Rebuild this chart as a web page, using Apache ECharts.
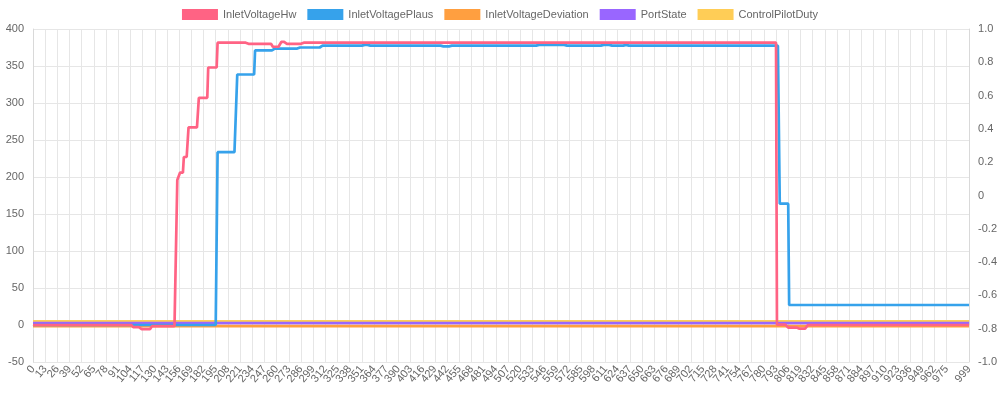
<!DOCTYPE html>
<html>
<head>
<meta charset="utf-8">
<script src="https://cdn.jsdelivr.net/npm/echarts@6/dist/echarts.min.js"></script>
<style>
html,body{margin:0;padding:0;background:#fff;}
#chart{width:1000px;height:399px;}
</style>
</head>
<body>
<div id="chart"></div>
<script>
// Category count (sample indices 0..999)
const sampleCount = 1000;
const seriesNames = ['InletVoltageHw','InletVoltagePlaus','InletVoltageDeviation','PortState','ControlPilotDuty'];
// Step data: [startIndex, value] — value holds until next step
const hwSteps = [[0,0],[107,-3],[115,-5.5],[127,-1.5],[154,196],[157,206],[161,227],[166,267],[177,307],[187,348],[197,381.5],[228,380],[256,376],[265,382.5],[270,380],[288,381.5],[794,0.5],[806,-3.5],[817,-5],[827,0]];
const plausSteps = [[0,0],[197,233.5],[218,338.5],[237,371],[256,373.5],[285,375],[308,377.5],[352,378.5],[360,377.5],[437,376.5],[445,377.5],[538,378.5],[570,377.5],[607,378.5],[617,377.5],[633,378.5],[636,377.5],[797,164],[807,27]];
const deviationSteps = [[0,-1.5]];
const portStateSteps = [[0,2.5]];
const pilotDutySteps = [[0,5]];
const leftTicks = {min:-50, max:400, interval:50};
const rightTicks = {min:-1, max:1, interval:0.2};

function expand(steps){
  const out = new Array(sampleCount);
  let k = 0;
  for(let i=0;i<sampleCount;i++){
    while(k+1<steps.length && steps[k+1][0]<=i) k++;
    out[i] = steps[k][1];
  }
  return out;
}
const categories = Array.from({length:sampleCount},(_,i)=>String(i));
const colors = ['rgb(255,99,132)','rgb(54,162,235)','rgb(255,159,64)','rgb(153,102,255)','rgb(255,205,86)'];
const allSteps = [hwSteps, plausSteps, deviationSteps, portStateSteps, pilotDutySteps];

const showTick = (idx) => (idx % 13 === 0 && idx <= 975) || idx === 999;
const evenLabel = (idx) => (idx % 26 === 0 && idx <= 975) || idx === 999;
const oddLabel = (idx) => idx % 26 === 13 && idx <= 975;
const labelStyle = {rotate:50, color:'#666', fontSize:11, margin:5, hideOverlap:false, showMinLabel:true, showMaxLabel:true};

const chart = echarts.init(document.getElementById('chart'), null, {renderer:'canvas'});
chart.setOption({
  animation:false,
  color: colors,
  textStyle:{fontFamily:'"Liberation Sans", Arial, sans-serif'},
  legend:{
    top:4, left:'center', icon:'rect', itemWidth:36, itemHeight:11, itemGap:11,
    textStyle:{color:'#666', fontSize:11},
    data: seriesNames
  },
  grid:{left:33, right:28, top:29, bottom:37, containLabel:false},
  xAxis:[{
    type:'category', data:categories, boundaryGap:false,
    axisLine:{show:true, lineStyle:{color:'#d9d9d9', width:1}},
    axisTick:{show:true, interval:(i)=>showTick(i), length:5, lineStyle:{color:'#e6e6e6'}},
    splitLine:{show:true, interval:(i)=>showTick(i), lineStyle:{color:'#e6e6e6', width:1}},
    axisLabel:Object.assign({interval:(i)=>evenLabel(i)}, labelStyle)
  },{
    type:'category', data:categories, boundaryGap:false, position:'bottom',
    axisLine:{show:false}, axisTick:{show:false}, splitLine:{show:false},
    axisLabel:Object.assign({interval:(i)=>oddLabel(i)}, labelStyle)
  }],
  yAxis:[
    {type:'value', position:'left', min:leftTicks.min, max:leftTicks.max, interval:leftTicks.interval,
     axisLine:{show:true, lineStyle:{color:'#d9d9d9'}},
     axisTick:{show:false},
     splitLine:{show:true, lineStyle:{color:'#e6e6e6'}},
     axisLabel:{color:'#666', fontSize:11, margin:9}},
    {type:'value', position:'right', min:rightTicks.min, max:rightTicks.max, interval:rightTicks.interval,
     axisLine:{show:true, lineStyle:{color:'#d9d9d9'}},
     axisTick:{show:false},
     splitLine:{show:false},
     axisLabel:{color:'#666', fontSize:11, margin:9,
       formatter:(v)=> Math.abs(v)<1e-9 ? '0' : v.toFixed(1)}}
  ],
  series: seriesNames.map((name, s)=>({
    name, type:'line', xAxisIndex:0, yAxisIndex:0, data: expand(allSteps[s]),
    symbol:'none', showSymbol:false, smooth:false,
    z: 10 - s,
    lineStyle:{color:colors[s], width:2.7},
    itemStyle:{color:colors[s]}
  }))
});
</script>
</body>
</html>
